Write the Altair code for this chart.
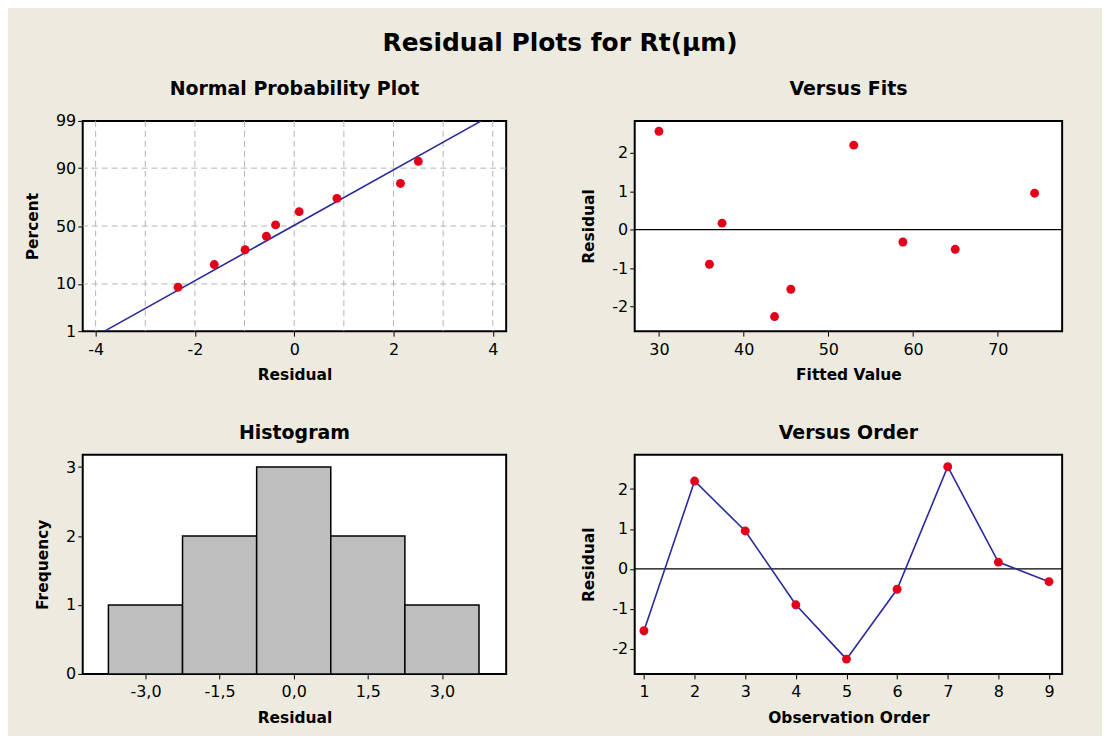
import altair as alt
import pandas as pd
from statistics import NormalDist

# ---------------- data ----------------
# Normal probability plot (sorted residuals and their plotted percents)
npp_residual = [-2.34, -1.61, -0.99, -0.56, -0.375, 0.10, 0.86, 2.14, 2.50]
npp_percent = [8.8, 19.7, 30.0, 41.0, 51.0, 62.5, 73.0, 82.7, 92.4]
# fitted normal reference line (end points)
line_residual = [-3.82, 3.77]
line_percent = [1, 99]
prob_ticks = [1, 10, 50, 90, 99]
prob_grid = [10, 50, 90]
npp_grid_x = [-4, -3, -2, -1, 0, 1, 2, 3, 4]
npp_label_x = [-4, -2, 0, 2, 4]

# residuals by observation order, with fitted values
order = [1, 2, 3, 4, 5, 6, 7, 8, 9]
fitted = [45.57, 53.0, 74.35, 35.96, 43.65, 64.98, 30.0, 37.45, 58.8]
residual = [-1.55, 2.20, 0.95, -0.90, -2.26, -0.51, 2.56, 0.17, -0.32]

# histogram of residuals
bin_start = [-3.75, -2.25, -0.75, 0.75, 2.25]
bin_end = [-2.25, -0.75, 0.75, 2.25, 3.75]
freq = [1, 2, 3, 2, 1]
hist_ticks = [-3.0, -1.5, 0.0, 1.5, 3.0]

# ---------------- styling ----------------
BG = "#EDEBE0"
RED = "#E3001B"
BLUE = "#2A2A9A"
GRID = "#B4B4B4"
FONT = "DejaVu Sans"
TW, TH = 425, 211
BW, BH = 425, 220
RW = 429
DOT = 80

nd = NormalDist()


def z(p):
    return nd.inv_cdf(p / 100.0)


zlo, zhi = z(1), z(99)

npp_df = pd.DataFrame({"Residual": npp_residual, "z": [z(p) for p in npp_percent]})
line_df = pd.DataFrame({"Residual": line_residual, "z": [z(p) for p in line_percent]})
gridx_df = pd.DataFrame({"gx": npp_grid_x})
gridy_df = pd.DataFrame({"gz": [z(p) for p in prob_grid]})
res_df = pd.DataFrame({"Order": order, "Fit": fitted, "Residual": residual})
hist_df = pd.DataFrame({"b0": bin_start, "b1": bin_end, "n": freq})
zero_df = pd.DataFrame({"zero": [0]})

int_label = "datum.value < 0 ? '-' + abs(datum.value) : '' + datum.value"
comma_label = "(datum.value < 0 ? '-' : '') + replace(format(abs(datum.value), '.1f'), '.', ',')"
prob_label = ("datum.value < -2 ? '1' : datum.value < -1 ? '10' : "
              "datum.value < 1 ? '50' : datum.value < 2 ? '90' : '99'")

XLP, XTP = 5, 10.5  # x-axis label / title padding
YTP = 15            # y-axis title padding


def sub_title(text, offset):
    return alt.TitleParams(text, fontSize=19, font=FONT, fontWeight="bold",
                           anchor="middle", frame="group", offset=offset, color="black")


# ---------- Normal probability plot ----------
npx = alt.Scale(domain=[-4.26, 4.27], nice=False, zero=False)
npy = alt.Scale(domain=[zlo, zhi], nice=False, zero=False)

g_x = alt.Chart(gridx_df).mark_rule(color=GRID, strokeDash=[6, 4], strokeWidth=1).encode(
    x=alt.X("gx:Q", scale=npx, title="Residual",
            axis=alt.Axis(values=npp_label_x, labelExpr=int_label, labelPadding=XLP, titlePadding=XTP))
)
g_y = alt.Chart(gridy_df).mark_rule(color=GRID, strokeDash=[6, 4], strokeWidth=1).encode(
    y=alt.Y("gz:Q", scale=npy, title="Percent",
            axis=alt.Axis(values=[z(p) for p in prob_ticks], labelExpr=prob_label, titlePadding=YTP))
)
fit_line = alt.Chart(line_df).mark_line(color=BLUE, strokeWidth=1.6, clip=True).encode(
    x=alt.X("Residual:Q", scale=npx), y=alt.Y("z:Q", scale=npy)
)
npp_pts = alt.Chart(npp_df).mark_circle(color=RED, size=DOT, opacity=1).encode(
    x=alt.X("Residual:Q", scale=npx), y=alt.Y("z:Q", scale=npy)
)
npp = alt.layer(g_x, g_y, fit_line, npp_pts).properties(
    width=TW, height=TH, title=sub_title("Normal Probability Plot", 14))

# ---------- Versus fits ----------
fx = alt.Scale(domain=[27.14, 77.6], nice=False, zero=False)
fy = alt.Scale(domain=[-2.64, 2.83], nice=False, zero=False)
fz = alt.Chart(zero_df).mark_rule(color="black", strokeWidth=1.3).encode(
    y=alt.Y("zero:Q", scale=fy)
)
fpts = alt.Chart(res_df).mark_circle(color=RED, size=DOT, opacity=1).encode(
    x=alt.X("Fit:Q", scale=fx, title="Fitted Value",
            axis=alt.Axis(values=[30, 40, 50, 60, 70], labelExpr=int_label, labelPadding=XLP, titlePadding=XTP)),
    y=alt.Y("Residual:Q", scale=fy, title="Residual",
            axis=alt.Axis(values=[-2, -1, 0, 1, 2], labelExpr=int_label, titlePadding=YTP)),
)
fits = alt.layer(fz, fpts).properties(width=RW, height=TH, title=sub_title("Versus Fits", 22.5))

# ---------- Histogram ----------
hx = alt.Scale(domain=[-4.27, 4.3], nice=False, zero=False)
hy = alt.Scale(domain=[0, 3.18], nice=False, zero=False)
hist = alt.Chart(hist_df).mark_bar(color="#BEBEBE", stroke="black", strokeWidth=1.5, opacity=1).encode(
    x=alt.X("b0:Q", scale=hx, title="Residual",
            axis=alt.Axis(values=hist_ticks, labelExpr=comma_label, labelPadding=XLP, titlePadding=XTP)),
    x2="b1:Q",
    y=alt.Y("n:Q", scale=hy, title="Frequency",
            axis=alt.Axis(values=[0, 1, 2, 3], labelExpr=int_label, titlePadding=YTP)),
    y2=alt.datum(0),
).properties(width=BW, height=BH, title=sub_title("Histogram", 12))

# ---------- Versus order ----------
ox = alt.Scale(domain=[0.817, 9.26], nice=False, zero=False)
oy = alt.Scale(domain=[-2.63, 2.86], nice=False, zero=False)
oz = alt.Chart(zero_df).mark_rule(color="black", strokeWidth=1.3).encode(
    y=alt.Y("zero:Q", scale=oy)
)
oline = alt.Chart(res_df).mark_line(color=BLUE, strokeWidth=1.6).encode(
    x=alt.X("Order:Q", scale=ox, title="Observation Order",
            axis=alt.Axis(values=order, labelExpr=int_label, labelPadding=XLP, titlePadding=XTP)),
    y=alt.Y("Residual:Q", scale=oy, title="Residual",
            axis=alt.Axis(values=[-2, -1, 0, 1, 2], labelExpr=int_label, titlePadding=YTP)),
)
opts = alt.Chart(res_df).mark_circle(color=RED, size=DOT, opacity=1).encode(
    x=alt.X("Order:Q", scale=ox), y=alt.Y("Residual:Q", scale=oy)
)
vorder = alt.layer(oz, oline, opts).properties(width=RW, height=BH, title=sub_title("Versus Order", 12))

chart = alt.concat(npp, fits, hist, vorder, columns=2, spacing={"row": 39, "column": 73}).properties(
    title=alt.TitleParams("Residual Plots for Rt(μm)", fontSize=25, font=FONT, fontWeight="bold",
                          anchor="middle", offset=23, dx=16, color="black"),
    padding={"left": 16, "top": 21, "right": 38, "bottom": 8},
).configure(
    background=BG,
).configure_view(
    fill="white", stroke="black", strokeWidth=2
).configure_axis(
    labelFont=FONT, labelFontSize=16, labelColor="black",
    titleFont=FONT, titleFontSize=15.5, titleFontWeight="bold", titleColor="black",
    tickColor="black", domainColor="black", tickSize=5, labelPadding=2,
    grid=False, domain=False,
).resolve_scale(x="independent", y="independent")

chart.save("out.html", embed_options={"renderer": "svg", "actions": False})
